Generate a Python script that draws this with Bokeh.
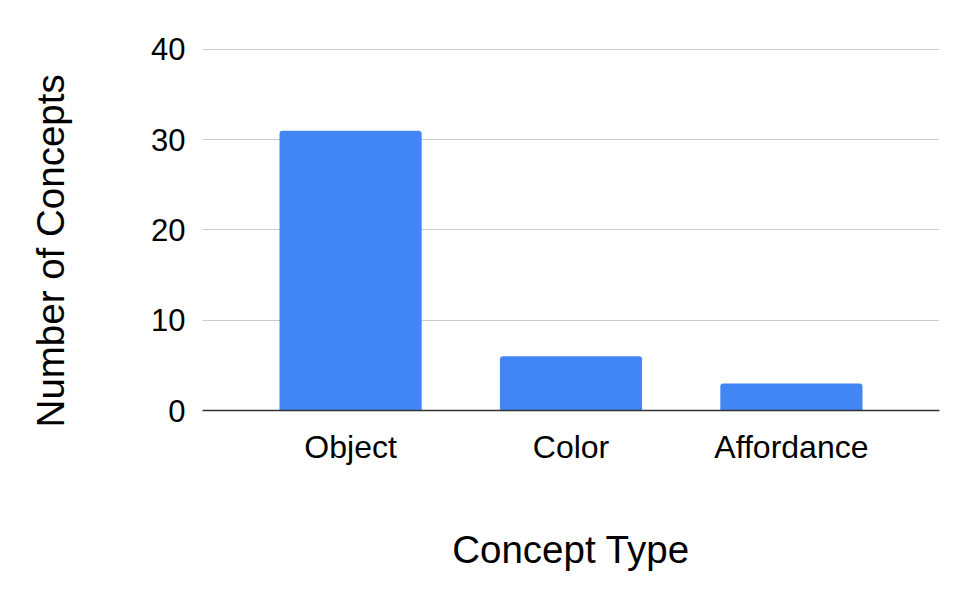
from bokeh.plotting import figure
from bokeh.models import ColumnDataSource, FactorRange, Range1d, FixedTicker
from bokeh.embed import file_html
from bokeh.resources import INLINE

categories = ["Object", "Color", "Affordance"]
counts = [31, 6, 3]
y_ticks = [0, 10, 20, 30, 40]
y_title = "Number of Concepts"
x_title = "Concept Type"

FONT = "Liberation Sans"
TXT = "#000000"

src = ColumnDataSource(data=dict(cat=categories, n=counts))

p = figure(
    x_range=FactorRange(*categories, range_padding=0.172, range_padding_units="absolute"),
    y_range=Range1d(0, 40.1),
    width=953, height=583,
    output_backend="svg", toolbar_location=None,
    min_border_left=202, min_border_right=14, min_border_top=48, min_border_bottom=173,
)
p.outline_line_color = None
p.background_fill_color = "white"
p.border_fill_color = "white"

p.vbar(x="cat", top="n", width=0.645, source=src, fill_color="#4285F4",
       line_color=None, border_radius=(3, 3, 0, 0))

# Y axis
p.yaxis.ticker = FixedTicker(ticks=y_ticks)
p.yaxis.axis_line_color = None
p.yaxis.major_tick_line_color = None
p.yaxis.minor_tick_line_color = None
p.yaxis.major_tick_out = 0
p.yaxis.major_label_standoff = 17
p.yaxis.major_label_text_font = FONT
p.yaxis.major_label_text_font_size = "31px"
p.yaxis.major_label_text_color = TXT
# trailing no-break spaces nudge the centred title slightly below the frame centre
p.yaxis.axis_label = y_title + "\u00a0" * 4
p.yaxis.axis_label_text_font = FONT
p.yaxis.axis_label_text_font_size = "38.5px"
p.yaxis.axis_label_text_font_style = "normal"
p.yaxis.axis_label_text_color = TXT
p.yaxis.axis_label_standoff = 76

# X axis
p.xaxis.axis_line_color = "#333333"
p.xaxis.axis_line_width = 1.5
p.xaxis.major_tick_line_color = None
p.xaxis.minor_tick_line_color = None
p.xaxis.major_tick_out = 0
p.xaxis.major_label_standoff = 18
p.xaxis.major_label_text_font = FONT
p.xaxis.major_label_text_font_size = "32px"
p.xaxis.major_label_text_color = TXT
p.xaxis.axis_label = x_title
p.xaxis.axis_label_text_font = FONT
p.xaxis.axis_label_text_font_size = "38.5px"
p.xaxis.axis_label_text_font_style = "normal"
p.xaxis.axis_label_text_color = TXT
p.xaxis.axis_label_standoff = 60

# Grid
p.xgrid.grid_line_color = None
p.ygrid.grid_line_color = "#cccccc"
p.ygrid.grid_line_width = 1.2

open("out.html", "w").write(file_html(p, INLINE))
